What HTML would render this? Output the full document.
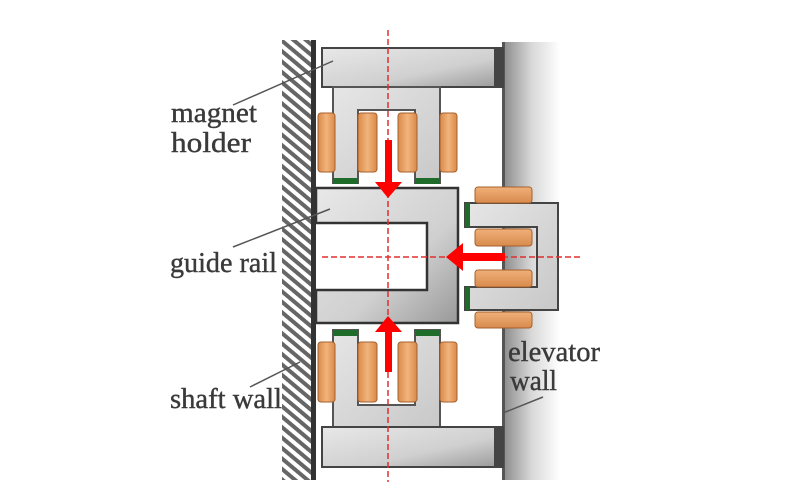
<!DOCTYPE html>
<html><head><meta charset="utf-8"><style>
html,body{margin:0;padding:0;background:#fff;}
svg{display:block;}
.t{font-family:'Liberation Serif','DejaVu Serif','Times New Roman',serif;font-size:28px;fill:#3a3a3a;stroke:#3a3a3a;stroke-width:0.4px;}
</style></head><body>
<svg width="800" height="500" viewBox="0 0 800 500" xmlns="http://www.w3.org/2000/svg">
<defs>
<pattern id="hatch" width="8" height="8" patternUnits="userSpaceOnUse" patternTransform="rotate(40)">
<rect width="8" height="8" fill="#fff"/>
<rect width="8" height="4" fill="#666"/>
</pattern>
<linearGradient id="wall" x1="0" x2="1" y1="0" y2="0">
<stop offset="0" stop-color="#8a8a8a"/><stop offset="0.5" stop-color="#d8d8d8"/><stop offset="1" stop-color="#fff"/>
</linearGradient>
<linearGradient id="bar" x1="0" x2="1" y1="0" y2="1">
<stop offset="0" stop-color="#e8e8e8"/><stop offset="0.6" stop-color="#d0d0d0"/><stop offset="1" stop-color="#999"/>
</linearGradient>
<linearGradient id="core" x1="0" x2="1" y1="0" y2="1">
<stop offset="0" stop-color="#e6e6e6"/><stop offset="1" stop-color="#c8c8c8"/>
</linearGradient>
<linearGradient id="coil" x1="0" x2="1">
<stop offset="0" stop-color="#d98a4a"/><stop offset="0.5" stop-color="#f2b47c"/><stop offset="1" stop-color="#d98a4a"/>
</linearGradient>
<linearGradient id="coilh" x1="0" x2="0" y1="0" y2="1">
<stop offset="0" stop-color="#f0b07a"/><stop offset="1" stop-color="#d88a4c"/>
</linearGradient>
</defs>

<rect x="282" y="40" width="31" height="440" fill="url(#hatch)"/>
<rect x="311" y="40" width="5" height="440" fill="#333"/>

<rect x="503" y="42" width="57" height="438" fill="url(#wall)"/>
<rect x="502" y="42" width="3" height="438" fill="#555"/>

<rect x="322" y="48" width="181" height="39" fill="url(#bar)" stroke="#444" stroke-width="2"/>
<rect x="494" y="48" width="9" height="39" fill="#444"/>
<path d="M333 87 H440 V183 H415 V110 H358 V183 H333 Z" fill="url(#core)" stroke="#555" stroke-width="2"/>
<rect x="333" y="178" width="25" height="6" fill="#1f6b2a"/>
<rect x="415" y="178" width="25" height="6" fill="#1f6b2a"/>
<rect x="318" y="113" width="17" height="59" rx="3" fill="url(#coil)" stroke="#a5612e" stroke-width="1"/>
<rect x="358" y="113" width="19" height="59" rx="3" fill="url(#coil)" stroke="#a5612e" stroke-width="1"/>
<rect x="398" y="113" width="19" height="59" rx="3" fill="url(#coil)" stroke="#a5612e" stroke-width="1"/>
<rect x="440" y="113" width="17" height="59" rx="3" fill="url(#coil)" stroke="#a5612e" stroke-width="1"/>

<path d="M316 188 H458 V323 H316 V290 H427 V223 H316 Z" fill="url(#bar)" stroke="#333" stroke-width="2.5"/>

<path d="M465 203 H558 V310 H465 V287 H537 V227 H465 Z" fill="url(#core)" stroke="#444" stroke-width="2"/>
<rect x="465" y="203" width="5" height="24" fill="#1f6b2a"/>
<rect x="465" y="287" width="5" height="23" fill="#1f6b2a"/>
<rect x="475" y="187" width="57" height="16" rx="3" fill="url(#coilh)" stroke="#a5612e"/>
<rect x="475" y="229" width="57" height="17" rx="3" fill="url(#coilh)" stroke="#a5612e"/>
<rect x="475" y="270" width="57" height="17" rx="3" fill="url(#coilh)" stroke="#a5612e"/>
<rect x="475" y="312" width="57" height="16" rx="3" fill="url(#coilh)" stroke="#a5612e"/>

<path d="M333 330 H358 V405 H415 V330 H440 V427 H333 Z" fill="url(#core)" stroke="#555" stroke-width="2"/>
<rect x="333" y="330" width="25" height="6" fill="#1f6b2a"/>
<rect x="415" y="330" width="25" height="6" fill="#1f6b2a"/>
<rect x="318" y="342" width="17" height="60" rx="3" fill="url(#coil)" stroke="#a5612e"/>
<rect x="358" y="342" width="19" height="60" rx="3" fill="url(#coil)" stroke="#a5612e"/>
<rect x="398" y="342" width="19" height="60" rx="3" fill="url(#coil)" stroke="#a5612e"/>
<rect x="440" y="342" width="17" height="60" rx="3" fill="url(#coil)" stroke="#a5612e"/>
<rect x="322" y="427" width="181" height="40" fill="url(#bar)" stroke="#444" stroke-width="2"/>
<rect x="494" y="427" width="9" height="40" fill="#444"/>

<line x1="388" y1="30" x2="388" y2="482" stroke="#e03030" stroke-width="1.5" stroke-dasharray="6,3"/>
<line x1="322" y1="257" x2="582" y2="257" stroke="#e03030" stroke-width="1.5" stroke-dasharray="6,3"/>

<rect x="385" y="140" width="7" height="45" fill="#f00"/>
<polygon points="375,182 402,182 388,198" fill="#f00"/>
<rect x="385" y="330" width="7" height="42" fill="#f00"/>
<polygon points="375,332 402,332 388,316" fill="#f00"/>
<rect x="460" y="253" width="45" height="8" fill="#f00"/>
<polygon points="463,243 463,271 446,257" fill="#f00"/>

<g stroke="#555" stroke-width="1.5">
<line x1="233" y1="105" x2="333" y2="61"/>
<line x1="233" y1="247" x2="330" y2="209"/>
<line x1="250" y1="387" x2="300" y2="362"/>
<line x1="503" y1="413" x2="543" y2="397"/>
</g>

<text class="t" x="171" y="122" textLength="86" lengthAdjust="spacingAndGlyphs">magnet</text>
<text class="t" x="171" y="152" textLength="80" lengthAdjust="spacingAndGlyphs">holder</text>
<text class="t" x="170" y="272" textLength="107" lengthAdjust="spacingAndGlyphs">guide rail</text>
<text class="t" x="170" y="408" textLength="112" lengthAdjust="spacingAndGlyphs">shaft wall</text>
<text class="t" x="508" y="361" textLength="92" lengthAdjust="spacingAndGlyphs">elevator</text>
<text class="t" x="510" y="390" textLength="47" lengthAdjust="spacingAndGlyphs">wall</text>
</svg>
</body></html>
